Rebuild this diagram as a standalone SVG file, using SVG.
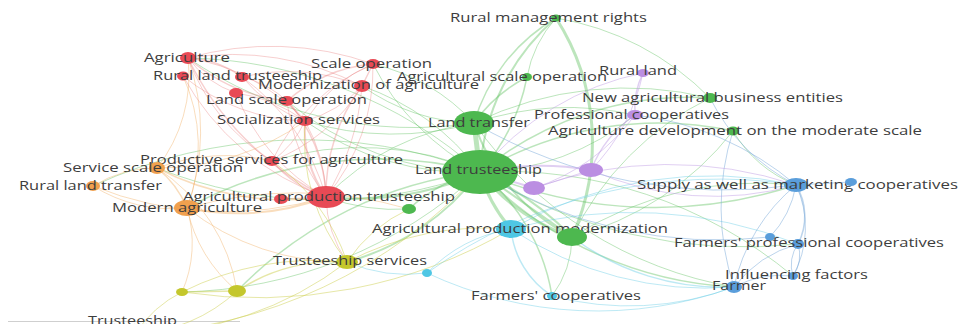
<svg xmlns="http://www.w3.org/2000/svg" width="960" height="324" viewBox="0 0 960 324">
<style>
text{font-family:"Open Sans","Noto Sans","DejaVu Sans",sans-serif;font-size:12px;fill:#3d3d3d}
#connectors path{fill:none;stroke-linecap:round}
.g{stroke:#5fc05f;stroke-opacity:.42}
.r{stroke:#e97676;stroke-opacity:.35}
.o{stroke:#f1ad62;stroke-opacity:.42}
.y{stroke:#cdd04f;stroke-opacity:.5}
.c{stroke:#6ccfe6;stroke-opacity:.45}
.b{stroke:#7aaad9;stroke-opacity:.5}
.p{stroke:#c29fe6;stroke-opacity:.5}
.nr{fill:#e84a55}
.ng{fill:#4db84f}
.no{fill:#f0a04e}
.np{fill:#bb8ee2}
.nc{fill:#4fc7e4}
.nb{fill:#5a9edb}
.ny{fill:#c4c72c}
</style>
<rect width="960" height="324" fill="#ffffff"/>
<line x1="8" y1="321.5" x2="240" y2="321.5" stroke="#cfcfcf" stroke-width="1"/>
<g id="connectors">
<!-- green -->
<path class="g" stroke-width="5" d="M480 172 L474 123"/>
<path class="g" stroke-width="2" d="M480 172 A220 220 0 0 1 556 18"/>
<path class="g" stroke-width="3" d="M556 18 A230 230 0 0 1 572 237"/>
<path class="g" stroke-width="1.5" d="M556 18 A180 180 0 0 0 474 123"/>
<path class="g" stroke-width="1.5" d="M480 172 A200 200 0 0 0 527 77"/>
<path class="g" stroke-width="1.5" d="M474 123 A150 150 0 0 1 527 77"/>
<path class="g" stroke-width="1.5" d="M480 172 A330 330 0 0 1 710 98"/>
<path class="g" stroke-width="1" d="M474 123 A350 350 0 0 1 710 98"/>
<path class="g" stroke-width="1.5" d="M480 172 A350 350 0 0 1 733 131"/>
<path class="g" stroke-width="1" d="M480 172 A250 250 0 0 0 635 115"/>
<path class="g" stroke-width="1.5" d="M480 172 A450 450 0 0 0 796 185"/>
<path class="g" stroke-width="1.5" d="M480 172 A380 380 0 0 0 734 287"/>
<path class="g" stroke-width="1" d="M480 172 A450 450 0 0 1 793 276"/>
<path class="g" stroke-width="1" d="M480 172 A500 500 0 0 0 798 244"/>
<path class="g" stroke-width="3" d="M480 172 A200 200 0 0 0 572 237"/>
<path class="g" stroke-width="2" d="M480 172 A300 300 0 0 1 572 237"/>
<path class="g" stroke-width="2" d="M480 172 L572 237"/>
<path class="g" stroke-width="3" d="M480 172 A150 150 0 0 0 511 229"/>
<path class="g" stroke-width="1.5" d="M480 172 A200 200 0 0 1 552 296"/>
<path class="g" stroke-width="2" d="M480 172 A250 250 0 0 1 347 262"/>
<path class="g" stroke-width="1.5" d="M480 172 A400 400 0 0 0 237 291"/>
<path class="g" stroke-width="1" d="M480 172 A450 450 0 0 1 182 292"/>
<path class="g" stroke-width="2" d="M480 172 A300 300 0 0 1 326 197"/>
<path class="g" stroke-width="1.5" d="M480 172 A400 400 0 0 0 187 208"/>
<path class="g" stroke-width="1" d="M480 172 A450 450 0 0 1 157 168"/>
<path class="g" stroke-width="1" d="M480 172 A300 300 0 0 0 272 161"/>
<path class="g" stroke-width="1" d="M480 172 A280 280 0 0 1 305 121"/>
<path class="g" stroke-width="1" d="M480 172 A250 250 0 0 0 362 86"/>
<path class="g" stroke-width="1" d="M480 172 A250 250 0 0 1 373 64"/>
<path class="g" stroke-width="1" d="M480 172 A450 450 0 0 0 188 58"/>
<path class="g" stroke-width="1" d="M480 172 A300 300 0 0 1 287 101"/>
<path class="g" stroke-width="1.5" d="M480 172 A150 150 0 0 0 409 209"/>
<path class="g" stroke-width="1" d="M480 172 A500 500 0 0 0 93 186"/>
<path class="y" stroke-width="1" d="M480 172 A500 500 0 0 1 135 334"/>
<path class="g" stroke-width="1" d="M474 123 A200 200 0 0 1 362 86"/>
<path class="g" stroke-width="1" d="M474 123 A200 200 0 0 0 373 64"/>
<path class="g" stroke-width="1" d="M474 123 A400 400 0 0 1 188 58"/>
<path class="g" stroke-width="2" d="M474 123 A200 200 0 0 0 572 237"/>
<path class="g" stroke-width="1" d="M474 123 A250 250 0 0 0 326 197"/>
<path class="g" stroke-width="1" d="M474 123 A300 300 0 0 1 635 115"/>
<path class="g" stroke-width="1" d="M474 123 A400 400 0 0 0 734 287"/>
<path class="g" stroke-width="1" d="M474 123 A300 300 0 0 1 305 121"/>
<path class="c" stroke-width="1.5" d="M572 237 A250 250 0 0 0 734 287"/>
<path class="g" stroke-width="1" d="M572 237 A100 100 0 0 1 552 296"/>
<path class="g" stroke-width="1" d="M572 237 A350 350 0 0 1 796 185"/>
<path class="g" stroke-width="1" d="M572 237 A300 300 0 0 1 710 98"/>
<path class="g" stroke-width="1" d="M572 237 A300 300 0 0 0 733 131"/>
<path class="g" stroke-width="1" d="M556 18 A120 120 0 0 0 527 77"/>
<path class="g" stroke-width="1" d="M556 18 A280 280 0 0 1 710 98"/>
<path class="g" stroke-width="1" d="M733 131 A130 130 0 0 0 796 185"/>
<!-- red -->
<path class="r" stroke-width="1.5" d="M188 58 A100 100 0 0 1 242 77"/>
<path class="r" stroke-width="1" d="M188 58 A300 300 0 0 1 373 64"/>
<path class="r" stroke-width="1" d="M188 58 A280 280 0 0 1 362 86"/>
<path class="r" stroke-width="1.5" d="M188 58 A180 180 0 0 0 287 101"/>
<path class="r" stroke-width="1" d="M188 58 A200 200 0 0 1 305 121"/>
<path class="r" stroke-width="1.5" d="M188 58 A300 300 0 0 0 326 197"/>
<path class="r" stroke-width="1" d="M188 58 A200 200 0 0 0 272 161"/>
<path class="r" stroke-width="1" d="M188 58 A100 100 0 0 0 236 93"/>
<path class="o" stroke-width="1" d="M188 58 A150 150 0 0 1 157 168"/>
<path class="o" stroke-width="1" d="M188 58 A220 220 0 0 1 187 208"/>
<path class="r" stroke-width="1" d="M183 76 A200 200 0 0 0 305 121"/>
<path class="r" stroke-width="1" d="M183 76 A260 260 0 0 0 326 197"/>
<path class="o" stroke-width="1" d="M183 76 A170 170 0 0 1 187 208"/>
<path class="r" stroke-width="1" d="M242 77 A100 100 0 0 1 287 101"/>
<path class="r" stroke-width="1" d="M242 77 A200 200 0 0 1 362 86"/>
<path class="r" stroke-width="1" d="M242 77 A220 220 0 0 1 326 197"/>
<path class="r" stroke-width="1" d="M242 77 A150 150 0 0 0 305 121"/>
<path class="r" stroke-width="1.5" d="M373 64 L362 86"/>
<path class="r" stroke-width="1.5" d="M373 64 A150 150 0 0 0 287 101"/>
<path class="r" stroke-width="1" d="M373 64 A200 200 0 0 1 326 197"/>
<path class="r" stroke-width="1" d="M373 64 A150 150 0 0 0 305 121"/>
<path class="r" stroke-width="1" d="M373 64 A200 200 0 0 0 272 161"/>
<path class="r" stroke-width="1" d="M362 86 A120 120 0 0 1 305 121"/>
<path class="r" stroke-width="1.5" d="M362 86 A180 180 0 0 0 326 197"/>
<path class="r" stroke-width="1" d="M362 86 A250 250 0 0 1 326 197"/>
<path class="r" stroke-width="1" d="M362 86 A180 180 0 0 1 272 161"/>
<path class="r" stroke-width="1.5" d="M287 101 L305 121"/>
<path class="r" stroke-width="1.5" d="M287 101 A150 150 0 0 1 326 197"/>
<path class="r" stroke-width="1" d="M287 101 A200 200 0 0 0 326 197"/>
<path class="r" stroke-width="2" d="M305 121 A120 120 0 0 0 326 197"/>
<path class="r" stroke-width="1" d="M305 121 A160 160 0 0 1 326 197"/>
<path class="r" stroke-width="1" d="M305 121 A100 100 0 0 1 272 161"/>
<path class="r" stroke-width="1.5" d="M272 161 A120 120 0 0 0 326 197"/>
<path class="r" stroke-width="1" d="M281 199 L326 197"/>
<path class="o" stroke-width="2" d="M326 197 A250 250 0 0 1 187 208"/>
<path class="r" stroke-width="1" d="M326 197 A120 120 0 0 0 347 262"/>
<path class="g" stroke-width="1" d="M326 197 A200 200 0 0 0 409 209"/>
<path class="r" stroke-width="1" d="M236 93 A150 150 0 0 1 305 121"/>
<path class="r" stroke-width="1" d="M236 93 A200 200 0 0 0 326 197"/>
<!-- orange -->
<path class="o" stroke-width="1.5" d="M157 168 A100 100 0 0 1 187 208"/>
<path class="o" stroke-width="1" d="M157 168 A250 250 0 0 0 305 121"/>
<path class="o" stroke-width="1.5" d="M157 168 A280 280 0 0 0 326 197"/>
<path class="o" stroke-width="1" d="M157 168 A200 200 0 0 1 272 161"/>
<path class="o" stroke-width="1" d="M93 186 A150 150 0 0 0 187 208"/>
<path class="o" stroke-width="1" d="M93 186 A120 120 0 0 1 157 168"/>
<path class="o" stroke-width="1" d="M93 186 A350 350 0 0 0 326 197"/>
<path class="o" stroke-width="1" d="M187 208 A150 150 0 0 0 237 291"/>
<path class="o" stroke-width="1" d="M187 208 A120 120 0 0 1 182 292"/>
<path class="o" stroke-width="1" d="M187 208 A250 250 0 0 0 347 262"/>
<path class="o" stroke-width="1" d="M187 208 A400 400 0 0 1 409 209"/>
<path class="o" stroke-width="1" d="M157 168 A180 180 0 0 1 237 291"/>
<!-- yellow -->
<path class="y" stroke-width="1.5" d="M347 262 A180 180 0 0 0 237 291"/>
<path class="y" stroke-width="1.5" d="M237 291 L182 292"/>
<path class="y" stroke-width="1" d="M182 292 A300 300 0 0 1 347 262"/>
<path class="y" stroke-width="1" d="M135 334 A350 350 0 0 0 347 262"/>
<path class="y" stroke-width="1" d="M135 334 A120 120 0 0 1 182 292"/>
<path class="y" stroke-width="1" d="M135 334 A160 160 0 0 0 237 291"/>
<path class="y" stroke-width="1" d="M347 262 A300 300 0 0 1 511 229"/>
<path class="y" stroke-width="1" d="M347 262 A200 200 0 0 0 272 161"/>
<path class="y" stroke-width="1" d="M347 262 A150 150 0 0 1 409 209"/>
<path class="y" stroke-width="1" d="M182 292 A500 500 0 0 0 511 229"/>
<path class="y" stroke-width="1" d="M347 262 A200 200 0 0 1 305 121"/>
<!-- cyan -->
<path class="c" stroke-width="1.5" d="M511 229 A90 90 0 0 0 552 296"/>
<path class="c" stroke-width="1" d="M511 229 A400 400 0 0 1 796 185"/>
<path class="c" stroke-width="1" d="M511 229 A150 150 0 0 0 427 273"/>
<path class="c" stroke-width="1" d="M511 229 A350 350 0 0 0 734 287"/>
<path class="c" stroke-width="1" d="M427 273 A500 500 0 0 1 796 185"/>
<path class="c" stroke-width="1" d="M511 229 A450 450 0 0 1 798 244"/>
<path class="c" stroke-width="1" d="M552 296 A300 300 0 0 0 734 287"/>
<path class="c" stroke-width="1" d="M427 273 A400 400 0 0 0 734 287"/>
<path class="c" stroke-width="1" d="M427 273 A150 150 0 0 1 347 262"/>
<!-- blue -->
<path class="b" stroke-width="1.5" d="M796 185 A60 60 0 0 1 798 244"/>
<path class="b" stroke-width="1" d="M796 185 A100 100 0 0 1 793 276"/>
<path class="b" stroke-width="1" d="M796 185 A180 180 0 0 0 734 287"/>
<path class="b" stroke-width="1" d="M796 185 L851 182"/>
<path class="b" stroke-width="1" d="M798 244 A35 35 0 0 1 793 276"/>
<path class="b" stroke-width="1" d="M798 244 A35 35 0 0 0 793 276"/>
<path class="b" stroke-width="1" d="M798 244 A120 120 0 0 0 734 287"/>
<path class="b" stroke-width="1" d="M796 185 A300 300 0 0 0 635 115"/>
<path class="b" stroke-width="1" d="M796 185 A200 200 0 0 1 710 98"/>
<path class="b" stroke-width="1" d="M770 237 A100 100 0 0 0 796 185"/>
<path class="b" stroke-width="1" d="M770 237 A450 450 0 0 1 480 172"/>
<path class="b" stroke-width="1" d="M734 287 A100 100 0 0 1 793 276"/>
<path class="b" stroke-width="1" d="M796 185 A500 500 0 0 1 474 123"/>
<path class="b" stroke-width="1" d="M734 287 A250 250 0 0 1 733 131"/>
<!-- purple -->
<path class="p" stroke-width="1.5" d="M643 73 A80 80 0 0 0 635 115"/>
<path class="p" stroke-width="1.5" d="M635 115 A120 120 0 0 0 591 170"/>
<path class="p" stroke-width="1" d="M635 115 A200 200 0 0 1 534 188"/>
<path class="p" stroke-width="1" d="M591 170 A300 300 0 0 0 796 185"/>
<path class="p" stroke-width="1" d="M534 188 A400 400 0 0 1 796 185"/>
<path class="p" stroke-width="1" d="M643 73 A200 200 0 0 1 591 170"/>
<path class="p" stroke-width="1" d="M591 170 L534 188"/>
<path class="p" stroke-width="1" d="M480 172 A280 280 0 0 1 643 73"/>
<path class="p" stroke-width="2" d="M480 172 A300 300 0 0 1 591 170"/>
<path class="p" stroke-width="2" d="M480 172 L534 188"/>
</g>
<g id="n-rural-management-rights"><ellipse class="ng" cx="556" cy="18" rx="5" ry="3.5"/><text x="450" y="22" textLength="197" lengthAdjust="spacingAndGlyphs">Rural management rights</text></g>
<g id="n-agriculture"><ellipse class="nr" cx="188" cy="58" rx="8" ry="6"/><text x="144" y="62" textLength="86" lengthAdjust="spacingAndGlyphs">Agriculture</text></g>
<g id="n-scale-operation"><ellipse class="nr" cx="373" cy="64" rx="7" ry="5"/><text x="311" y="68" textLength="121" lengthAdjust="spacingAndGlyphs">Scale operation</text></g>
<g id="n-red-a"><ellipse class="nr" cx="183" cy="76" rx="6" ry="4.5"/></g>
<g id="n-rural-land-trusteeship"><ellipse class="nr" cx="242" cy="77" rx="7" ry="5"/><text x="153" y="80" textLength="169" lengthAdjust="spacingAndGlyphs">Rural land trusteeship</text></g>
<g id="n-agricultural-scale-operation"><ellipse class="ng" cx="527" cy="77" rx="5" ry="4"/><text x="397" y="81" textLength="210" lengthAdjust="spacingAndGlyphs">Agricultural scale operation</text></g>
<g id="n-rural-land"><ellipse class="np" cx="643" cy="73" rx="6" ry="4"/><text x="599" y="75" textLength="78" lengthAdjust="spacingAndGlyphs">Rural land</text></g>
<g id="n-modernization-of-agriculture"><ellipse class="nr" cx="362" cy="86" rx="8" ry="6"/><text x="258" y="89" textLength="221" lengthAdjust="spacingAndGlyphs">Modernization of agriculture</text></g>
<g id="n-red-b"><ellipse class="nr" cx="236" cy="93" rx="7" ry="5"/></g>
<g id="n-land-scale-operation"><ellipse class="nr" cx="287" cy="101" rx="7" ry="5"/><text x="206" y="104" textLength="161" lengthAdjust="spacingAndGlyphs">Land scale operation</text></g>
<g id="n-new-agricultural-business-entities"><ellipse class="ng" cx="710" cy="98" rx="7" ry="5"/><text x="582" y="102" textLength="261" lengthAdjust="spacingAndGlyphs">New agricultural business entities</text></g>
<g id="n-socialization-services"><ellipse class="nr" cx="305" cy="121" rx="8" ry="5"/><text x="217" y="124" textLength="163" lengthAdjust="spacingAndGlyphs">Socialization services</text></g>
<g id="n-land-transfer"><ellipse class="ng" cx="474" cy="123" rx="20" ry="12"/><text x="428" y="127" textLength="102" lengthAdjust="spacingAndGlyphs">Land transfer</text></g>
<g id="n-professional-cooperatives"><ellipse class="np" cx="635" cy="115" rx="8" ry="5"/><text x="534" y="119" textLength="195" lengthAdjust="spacingAndGlyphs">Professional cooperatives</text></g>
<g id="n-agriculture-development"><ellipse class="ng" cx="733" cy="131" rx="6" ry="4.5"/><text x="548" y="135" textLength="374" lengthAdjust="spacingAndGlyphs">Agriculture development on the moderate scale</text></g>
<g id="n-productive-services"><ellipse class="nr" cx="272" cy="161" rx="7" ry="5"/><text x="140" y="164" textLength="263" lengthAdjust="spacingAndGlyphs">Productive services for agriculture</text></g>
<g id="n-service-scale-operation"><ellipse class="no" cx="157" cy="168" rx="8" ry="6"/><text x="63" y="172" textLength="180" lengthAdjust="spacingAndGlyphs">Service scale operation</text></g>
<g id="n-land-trusteeship"><ellipse class="ng" cx="480" cy="172" rx="38" ry="22"/><text x="415" y="174" textLength="127" lengthAdjust="spacingAndGlyphs">Land trusteeship</text></g>
<g id="n-purple-a"><ellipse class="np" cx="591" cy="170" rx="12" ry="7"/></g>
<g id="n-purple-b"><ellipse class="np" cx="534" cy="188" rx="11" ry="7"/></g>
<g id="n-supply-marketing"><ellipse class="nb" cx="796" cy="185" rx="12" ry="7"/><text x="637" y="189" textLength="321" lengthAdjust="spacingAndGlyphs">Supply as well as marketing cooperatives</text></g>
<g id="n-blue-a"><ellipse class="nb" cx="851" cy="182" rx="6" ry="4"/></g>
<g id="n-rural-land-transfer"><ellipse class="no" cx="93" cy="186" rx="7" ry="5"/><text x="19" y="190" textLength="143" lengthAdjust="spacingAndGlyphs">Rural land transfer</text></g>
<g id="n-red-c"><ellipse class="nr" cx="281" cy="199" rx="7" ry="5"/></g>
<g id="n-agricultural-production-trusteeship"><ellipse class="nr" cx="326" cy="197" rx="19" ry="11"/><text x="183" y="201" textLength="272" lengthAdjust="spacingAndGlyphs">Agricultural production trusteeship</text></g>
<g id="n-modern-agriculture"><ellipse class="no" cx="187" cy="208" rx="13" ry="8"/><text x="112" y="212" textLength="150" lengthAdjust="spacingAndGlyphs">Modern agriculture</text></g>
<g id="n-green-a"><ellipse class="ng" cx="409" cy="209" rx="7" ry="5"/></g>
<g id="n-agricultural-production-modernization"><ellipse class="nc" cx="511" cy="229" rx="15" ry="9"/><text x="372" y="233" textLength="296" lengthAdjust="spacingAndGlyphs">Agricultural production modernization</text></g>
<g id="n-green-b"><ellipse class="ng" cx="572" cy="237" rx="15" ry="9"/></g>
<g id="n-blue-b"><ellipse class="nb" cx="770" cy="237" rx="5" ry="4"/></g>
<g id="n-farmers-professional-cooperatives"><ellipse class="nb" cx="798" cy="244" rx="6" ry="5"/><text x="674" y="247" textLength="270" lengthAdjust="spacingAndGlyphs">Farmers' professional cooperatives</text></g>
<g id="n-trusteeship-services"><ellipse class="ny" cx="347" cy="262" rx="11" ry="7"/><text x="273" y="265" textLength="154" lengthAdjust="spacingAndGlyphs">Trusteeship services</text></g>
<g id="n-cyan-a"><ellipse class="nc" cx="427" cy="273" rx="5" ry="4"/></g>
<g id="n-influencing-factors"><ellipse class="nb" cx="793" cy="276" rx="5" ry="4"/><text x="725" y="279" textLength="143" lengthAdjust="spacingAndGlyphs">Influencing factors</text></g>
<g id="n-farmer"><ellipse class="nb" cx="734" cy="287" rx="8" ry="6"/><text x="712" y="290" textLength="54" lengthAdjust="spacingAndGlyphs">Farmer</text></g>
<g id="n-farmers-cooperatives"><ellipse class="nc" cx="552" cy="296" rx="5" ry="4"/><text x="471" y="300" textLength="170" lengthAdjust="spacingAndGlyphs">Farmers' cooperatives</text></g>
<g id="n-yellow-a"><ellipse class="ny" cx="182" cy="292" rx="6" ry="4"/></g>
<g id="n-yellow-b"><ellipse class="ny" cx="237" cy="291" rx="9" ry="6"/></g>
<g id="n-trusteeship"><ellipse class="ny" cx="135" cy="334" rx="6" ry="4"/><text x="88" y="325" textLength="89" lengthAdjust="spacingAndGlyphs">Trusteeship</text></g>
</svg>
